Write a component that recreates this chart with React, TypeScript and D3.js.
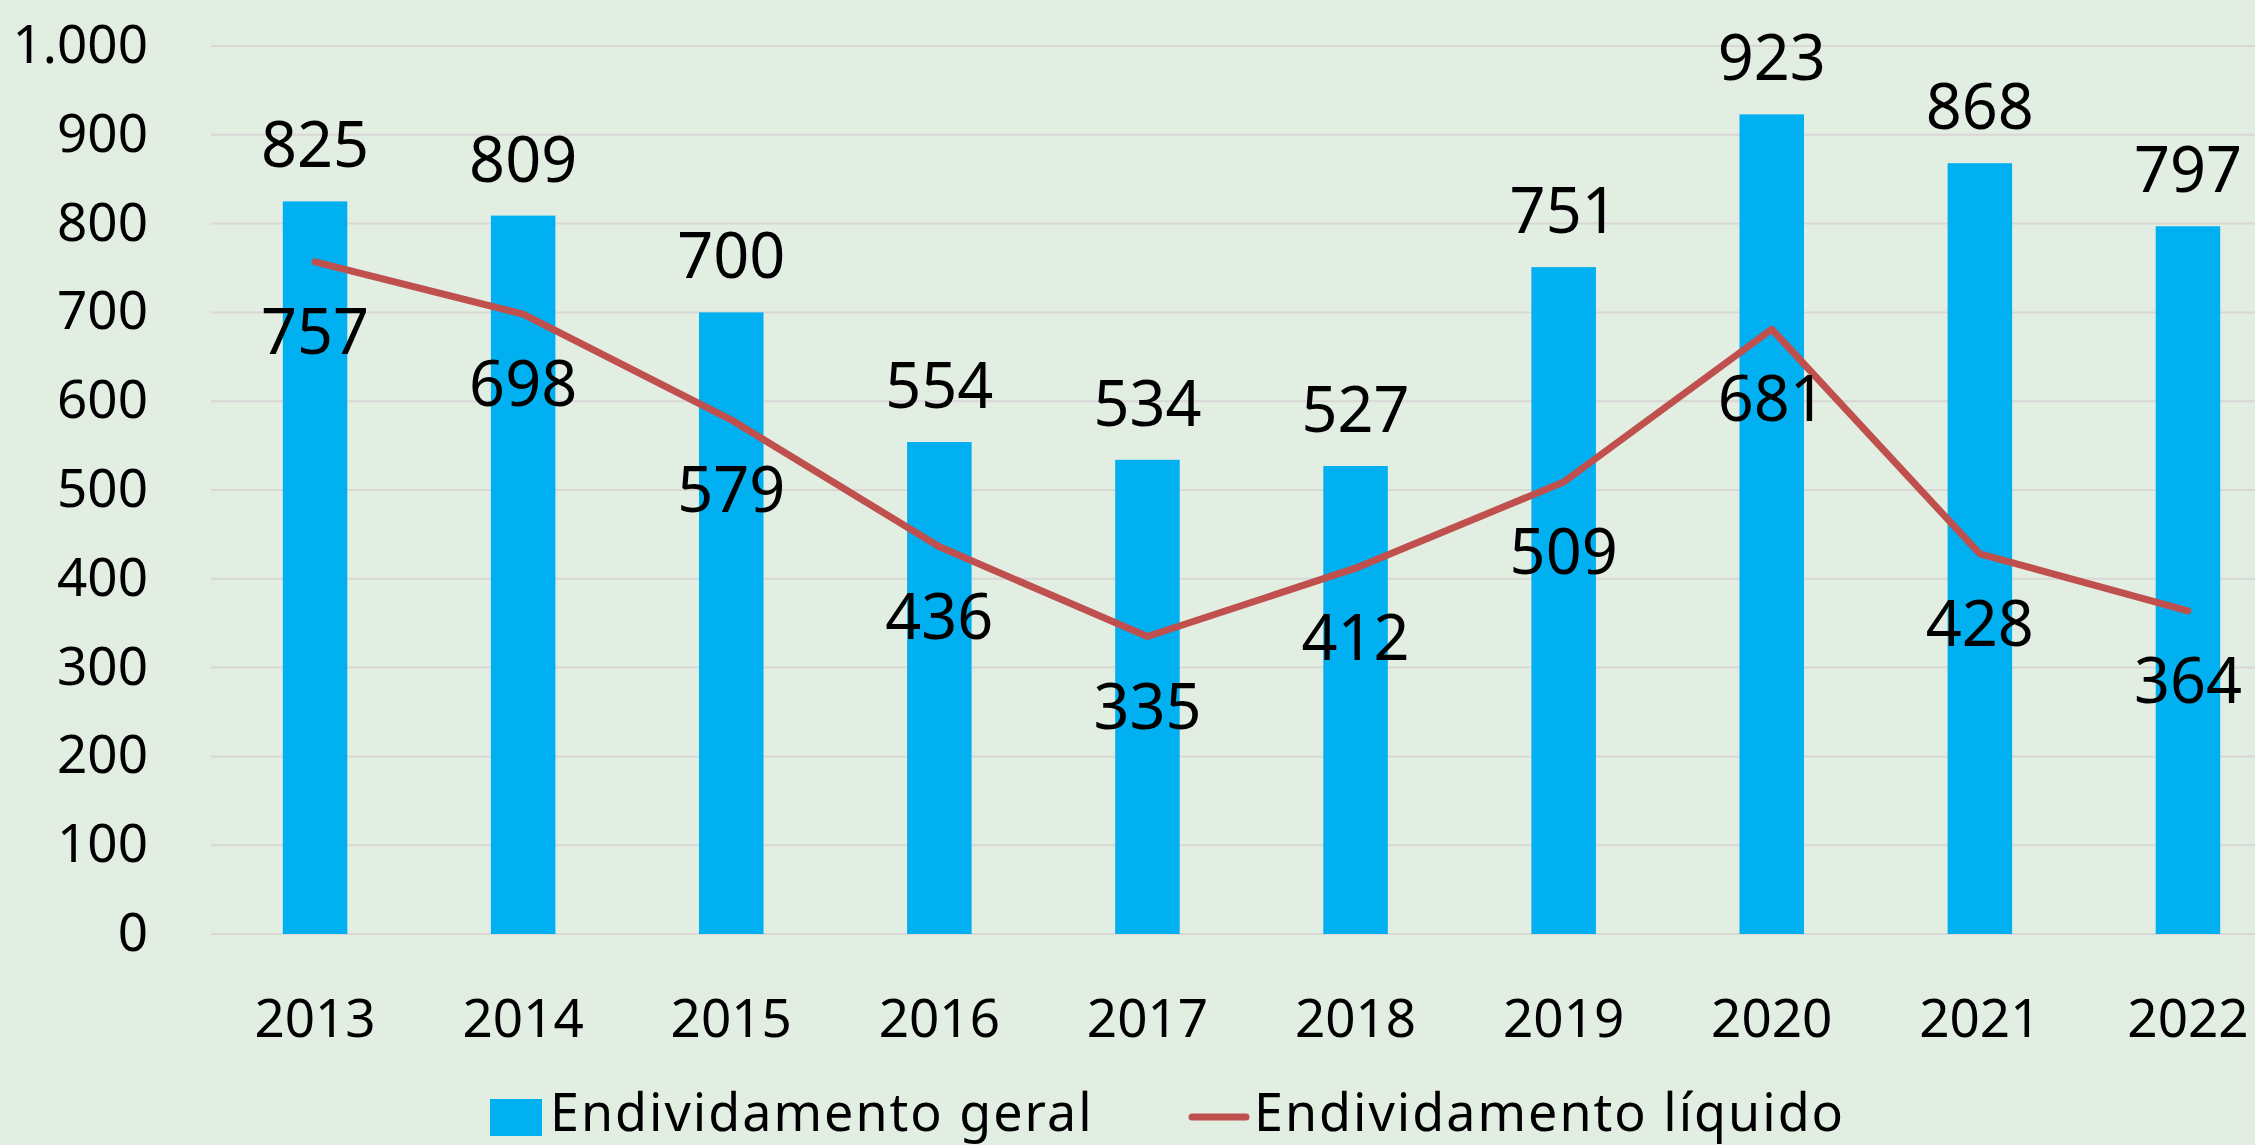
import React, { useEffect, useRef } from "react";
import * as d3 from "d3";

const years = ["2013", "2014", "2015", "2016", "2017", "2018", "2019", "2020", "2021", "2022"];
const geral = [825, 809, 700, 554, 534, 527, 751, 923, 868, 797];
const liquido = [757, 698, 579, 436, 335, 412, 509, 681, 428, 364];
const yTicks = [0, 100, 200, 300, 400, 500, 600, 700, 800, 900, 1000];
const seriesNames = ["Endividamento geral", "Endividamento líquido"];

const App = () => {
  const svgRef = useRef<SVGSVGElement>(null);
  const svgWidth = 2255;
  const svgHeight = 1145;
  const font = "'Noto Sans', sans-serif";

  useEffect(() => {
    document.body.style.margin = "0";
    const svg = d3.select(svgRef.current);
    svg.selectAll("*").remove();

    svg
      .append("rect")
      .attr("width", svgWidth)
      .attr("height", svgHeight)
      .attr("fill", "#e2eee2");

    // plot area runs past the right edge (the original is cropped)
    const x = d3.scaleBand().domain(years).range([211, 2292]).paddingInner(0.69).paddingOuter(0.345);
    const y = d3.scaleLinear().domain([0, 1000]).range([934, 46]);

    // gridlines
    svg
      .append("g")
      .selectAll("line")
      .data(yTicks)
      .enter()
      .append("line")
      .attr("x1", 211)
      .attr("x2", svgWidth)
      .attr("y1", (d) => y(d))
      .attr("y2", (d) => y(d))
      .attr("stroke", "#d9d6d6")
      .attr("stroke-width", 2);

    // y axis labels
    svg
      .append("g")
      .selectAll("text")
      .data(yTicks)
      .enter()
      .append("text")
      .attr("x", 148)
      .attr("y", (d) => y(d) + 17)
      .attr("text-anchor", "end")
      .attr("font-family", font)
      .attr("font-size", 53)
      .attr("fill", "#000")
      .text((d) => d3.format(",")(d).replace(",", "."));

    // x axis labels
    svg
      .append("g")
      .selectAll("text")
      .data(years)
      .enter()
      .append("text")
      .attr("x", (d) => x(d)! + x.bandwidth() / 2)
      .attr("y", 1037)
      .attr("text-anchor", "middle")
      .attr("font-family", font)
      .attr("font-size", 53)
      .attr("fill", "#000")
      .text((d) => d);

    // bars
    svg
      .append("g")
      .selectAll("rect")
      .data(geral)
      .enter()
      .append("rect")
      .attr("x", (d, i) => x(years[i])!)
      .attr("y", (d) => y(d))
      .attr("width", x.bandwidth())
      .attr("height", (d) => y(0) - y(d))
      .attr("fill", "#00b0f0");

    // line
    const line = d3
      .line<number>()
      .x((d, i) => x(years[i])! + x.bandwidth() / 2)
      .y((d) => y(d));

    svg
      .append("path")
      .datum(liquido)
      .attr("d", line)
      .attr("fill", "none")
      .attr("stroke", "#c0504d")
      .attr("stroke-width", 7)
      .attr("stroke-linejoin", "round")
      .attr("stroke-linecap", "round");

    // bar labels
    svg
      .append("g")
      .selectAll("text")
      .data(geral)
      .enter()
      .append("text")
      .attr("x", (d, i) => x(years[i])! + x.bandwidth() / 2)
      .attr("y", (d) => y(d) - 34)
      .attr("text-anchor", "middle")
      .attr("font-family", font)
      .attr("font-size", 63)
      .attr("fill", "#000")
      .text((d) => d);

    // line labels
    svg
      .append("g")
      .selectAll("text")
      .data(liquido)
      .enter()
      .append("text")
      .attr("x", (d, i) => x(years[i])! + x.bandwidth() / 2)
      .attr("y", (d) => y(d) + 92)
      .attr("text-anchor", "middle")
      .attr("font-family", font)
      .attr("font-size", 63)
      .attr("fill", "#000")
      .text((d) => d);

    // legend
    const legend = svg.append("g");
    legend
      .append("rect")
      .attr("x", 490)
      .attr("y", 1099)
      .attr("width", 52)
      .attr("height", 37)
      .attr("fill", "#00b0f0");
    legend
      .append("text")
      .attr("x", 550)
      .attr("y", 1131)
      .attr("font-family", font)
      .attr("font-size", 52)
      .attr("letter-spacing", 2)
      .attr("fill", "#000")
      .text(seriesNames[0]);
    legend
      .append("line")
      .attr("x1", 1192)
      .attr("x2", 1246)
      .attr("y1", 1117)
      .attr("y2", 1117)
      .attr("stroke", "#c0504d")
      .attr("stroke-width", 7)
      .attr("stroke-linecap", "round");
    legend
      .append("text")
      .attr("x", 1254)
      .attr("y", 1131)
      .attr("font-family", font)
      .attr("font-size", 52)
      .attr("letter-spacing", 2)
      .attr("fill", "#000")
      .text(seriesNames[1]);
  }, []);

  return <svg ref={svgRef} width={svgWidth} height={svgHeight} style={{ display: "block" }}></svg>;
};

export default App;
